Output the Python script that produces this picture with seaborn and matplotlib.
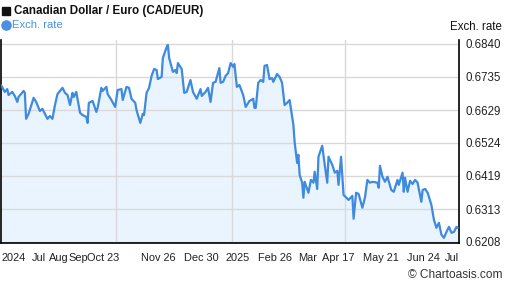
import matplotlib
matplotlib.use("Agg")
import matplotlib.pyplot as plt
from matplotlib.lines import Line2D
import seaborn as sns
import pandas as pd
import numpy as np

# Days since 2024-07-01 and CAD/EUR rate
days = [0, 3, 5, 6, 9, 11, 13, 14, 18, 19, 20, 22, 26, 28, 31, 33, 37, 39, 41, 43,
        45, 49, 51, 53, 55, 57, 58, 60, 63, 65, 68, 69, 70, 73, 76, 77, 80, 81, 84, 85,
        88, 91, 93, 96, 97, 100, 102, 104, 107, 108, 111, 113, 114, 116, 118, 120, 122, 124, 125, 128,
        129, 132, 133, 134, 137, 139, 140, 141, 144, 146, 148, 151, 153, 156, 159, 160, 163, 165, 167, 169,
        171, 174, 175, 177, 179, 181, 183, 185, 186, 188, 190, 193, 195, 198, 201, 202, 203, 205, 207, 209,
        210, 212, 214, 216, 217, 220, 222, 224, 226, 228, 230, 233, 234, 236, 237, 238, 240, 241, 242, 245,
        247, 249, 250, 252, 253, 256, 258, 260, 261, 264, 266, 268, 269, 271, 273, 276, 277, 280, 281, 283,
        285, 288, 290, 292, 294, 296, 300, 301, 302, 304, 306, 308, 311, 313, 316, 317, 320, 321, 322, 324,
        326, 328, 330, 332, 335, 336, 338, 340, 343, 345, 347, 349, 351, 353, 355, 357, 359, 361, 363, 364]
rates = [0.6709, 0.6687, 0.6696, 0.6677, 0.6687, 0.6674, 0.6655, 0.6671, 0.6690, 0.6684,
         0.6601, 0.6617, 0.6668, 0.6655, 0.6626, 0.6633, 0.6601, 0.6610, 0.6601, 0.6645,
         0.6680, 0.6700, 0.6684, 0.6677, 0.6645, 0.6684, 0.6671, 0.6687, 0.6620, 0.6613,
         0.6607, 0.6588, 0.6652, 0.6658, 0.6623, 0.6636, 0.6700, 0.6690, 0.6703, 0.6680,
         0.6661, 0.6639, 0.6693, 0.6696, 0.6661, 0.6703, 0.6700, 0.6665, 0.6652, 0.6629,
         0.6588, 0.6617, 0.6613, 0.6684, 0.6700, 0.6738, 0.6760, 0.6757, 0.6728, 0.6735,
         0.6795, 0.6830, 0.6837, 0.6795, 0.6751, 0.6757, 0.6747, 0.6779, 0.6760, 0.6684,
         0.6687, 0.6725, 0.6687, 0.6665, 0.6696, 0.6674, 0.6687, 0.6700, 0.6655, 0.6716,
         0.6719, 0.6763, 0.6716, 0.6719, 0.6738, 0.6747, 0.6779, 0.6767, 0.6776, 0.6703,
         0.6709, 0.6677, 0.6639, 0.6658, 0.6665, 0.6636, 0.6636, 0.6716, 0.6725, 0.6719,
         0.6770, 0.6773, 0.6728, 0.6731, 0.6719, 0.6744, 0.6735, 0.6716, 0.6645, 0.6652,
         0.6661, 0.6582, 0.6527, 0.6460, 0.6486, 0.6422, 0.6397, 0.6349, 0.6400, 0.6365,
         0.6406, 0.6397, 0.6432, 0.6377, 0.6480, 0.6515, 0.6454, 0.6397, 0.6480, 0.6454,
         0.6429, 0.6435, 0.6390, 0.6480, 0.6358, 0.6346, 0.6342, 0.6355, 0.6282, 0.6365,
         0.6361, 0.6317, 0.6349, 0.6406, 0.6397, 0.6400, 0.6397, 0.6381, 0.6451, 0.6416,
         0.6400, 0.6416, 0.6374, 0.6368, 0.6406, 0.6390, 0.6429, 0.6368, 0.6413, 0.6368,
         0.6403, 0.6393, 0.6406, 0.6397, 0.6336, 0.6374, 0.6377, 0.6365, 0.6326, 0.6279,
         0.6253, 0.6269, 0.6231, 0.6221, 0.6240, 0.6256, 0.6237, 0.6240, 0.6256, 0.6253]

y_ticks = [0.6208, 0.6313, 0.6419, 0.6524, 0.6629, 0.6735, 0.6840]
x_labels = ["2024", "Jul", "Aug", "Sep", "Oct 23", "Nov 26", "Dec 30", "2025",
            "Feb 26", "Mar", "Apr 17", "May 21", "Jun 24", "Jul"]
x_label_pos = [9.8, 30.5, 46, 61.5, 81.5, 125.5, 159.5, 188.5, 218, 244, 268.5, 303, 336.5, 359]
quarter_lines = [92, 184, 274]

df = pd.DataFrame({"day": days, "rate": rates})

sns.set_style("white")
plt.rcParams["font.family"] = ["Liberation Sans", "DejaVu Sans"]

W, H = 507, 288
fig = plt.figure(figsize=(W / 100, H / 100), dpi=100)
ax = fig.add_axes([1 / W, (H - 243) / H, (459 - 1) / W, (243 - 40) / H])

line_color = "#3d8ae0"
ax.fill_between(df["day"], df["rate"], 0.6, color="#eaf4fe", zorder=1, lw=0)
sns.lineplot(data=df, x="day", y="rate", ax=ax, color=line_color, lw=1.6, zorder=3)

ax.set_xlim(0, 365)
ax.set_ylim(0.62045, 0.68527)

for q in quarter_lines:
    ax.axvline(q, color="#d9d9d9", lw=1, zorder=2)
for t in y_ticks:
    ax.axhline(t, color="#d9d9d9", lw=1, zorder=2)

ax.yaxis.tick_right()
ax.set_yticks(y_ticks)
ax.set_yticklabels([f"{t:.4f}" for t in y_ticks])
ax.set_xticks(x_label_pos)
ax.set_xticklabels(x_labels)
ax.tick_params(axis="both", length=0, labelsize=8.3, colors="#222222")
ax.tick_params(axis="x", labelsize=7.9, pad=7)
ax.tick_params(axis="y", pad=5)
ax.set_xlabel("")
ax.set_ylabel("")

for s in ["left", "right", "bottom"]:
    ax.spines[s].set_visible(True)
    ax.spines[s].set_color("#000000")
    ax.spines[s].set_linewidth(1.2)
ax.spines["top"].set_visible(False)

# Title and legend markers
fig.add_artist(Line2D([5.5 / W], [1 - 11 / H], marker="s", markersize=6.3,
                      color="#111111", linestyle="none", transform=fig.transFigure))
fig.add_artist(Line2D([6 / W], [1 - 25 / H], marker="o", markersize=6.6,
                      color="#4a90e2", linestyle="none", transform=fig.transFigure))
fig.text(14 / W, 1 - 11 / H, "Canadian Dollar / Euro (CAD/EUR)", fontsize=8.4,
         fontweight="bold", color="#111111", va="center", ha="left")
fig.text(12 / W, 1 - 25 / H, "Exch. rate", fontsize=8.1, color="#4a90e2",
         va="center", ha="left")
fig.text(502 / W, 1 - 27 / H, "Exch. rate", fontsize=8.3, color="#111111",
         va="center", ha="right")
fig.text(502 / W, 1 - 275 / H, "\u00A9 Chartoasis.com", fontsize=8.6, color="#333333",
         va="center", ha="right")

fig.savefig("out.png", dpi=100)
